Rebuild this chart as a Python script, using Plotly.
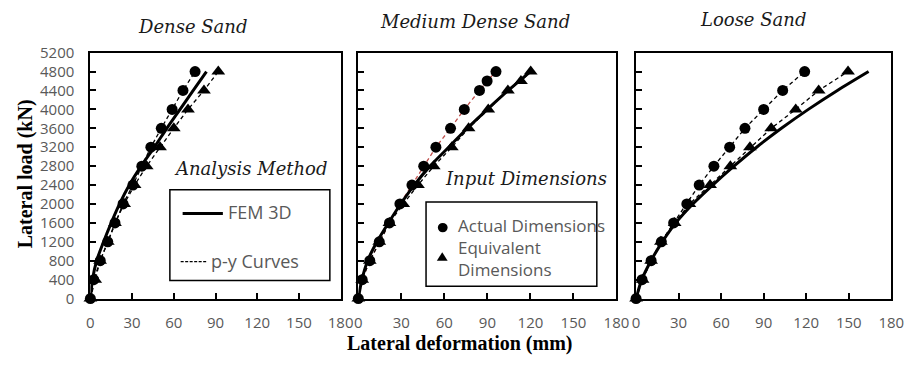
import plotly.graph_objects as go

# ---------------- data ----------------
loads = [0, 400, 800, 1200, 1600, 2000, 2400, 2800, 3200, 3600, 4000, 4400, 4800]
loads_md = [0, 400, 800, 1200, 1600, 2000, 2400, 2800, 3200, 3600, 4000, 4400, 4600, 4800]

# Dense sand
dense_fem = [0, 1.5, 4.5, 9.5, 15, 21, 28, 36.5, 46, 55, 64.5, 74, 83.5]
dense_actual = [0, 2.4, 7.1, 12.5, 17.7, 23.5, 30.6, 37.0, 43.5, 51.0, 58.8, 66.6, 75.3]
dense_equiv = [0, 3.5, 7.0, 12.5, 17.7, 24.3, 31.8, 40.5, 50.1, 60.0, 70.2, 81.7, 92.0]

# Medium dense sand
med_fem = [0, 2.5, 6.5, 13, 21, 29.5, 39, 50, 63, 76, 90, 104.5, 120]
med_actual = [0, 2.7, 8.0, 14.6, 21.7, 29.0, 37.4, 45.6, 54.1, 64.3, 73.9, 84.5, 89.8, 96.0]
med_equiv = [0, 2.7, 8.0, 14.6, 21.7, 31.3, 41.6, 52.6, 65.2, 76.9, 90.6, 104.3, 113.4, 120.2]

# Loose sand
loose_fem = [0, 4, 10.5, 18.5, 28, 40, 54, 69, 85, 102.5, 121.5, 142, 164]
loose_actual = [0, 4.2, 10.6, 17.8, 26.5, 35.8, 44.5, 54.9, 66.0, 76.8, 90.0, 103.4, 118.9]
loose_equiv = [0, 4.6, 10.6, 17.5, 27.2, 37.6, 52.2, 66.5, 80.3, 95.3, 112.6, 128.8, 149.5]

x_ticks = [0, 30, 60, 90, 120, 150, 180]
y_ticks = list(range(0, 5201, 400))

panel_titles = ["Dense Sand", "Medium Dense Sand", "Loose Sand"]

# ---------------- figure ----------------
W, H = 919, 370
fig = go.Figure()

def px(x):
    return x / W

def py(y):
    return 1 - y / H

DASH = "4px,3px"

def add_series(axn, fem, act, equiv, act_loads, eq_loads, act_color="black"):
    xa = "x" if axn == 1 else f"x{axn}"
    ya = "y" if axn == 1 else f"y{axn}"
    fig.add_trace(go.Scatter(x=act, y=act_loads, xaxis=xa, yaxis=ya, mode="lines+markers",
                             line=dict(color=act_color, width=1.3, dash=DASH),
                             marker=dict(symbol="circle", size=11, color="black"),
                             cliponaxis=False, showlegend=False))
    fig.add_trace(go.Scatter(x=equiv, y=eq_loads, xaxis=xa, yaxis=ya, mode="lines+markers",
                             line=dict(color="black", width=1.3, dash=DASH),
                             marker=dict(symbol="triangle-up", size=12, color="black"),
                             cliponaxis=False, showlegend=False))
    fig.add_trace(go.Scatter(x=fem, y=loads, xaxis=xa, yaxis=ya, mode="lines",
                             line=dict(color="black", width=3, shape="spline", smoothing=0.8),
                             cliponaxis=False, showlegend=False))

add_series(1, dense_fem, dense_actual, dense_equiv, loads, loads)
add_series(2, med_fem, med_actual, med_equiv, loads_md, loads_md, act_color="#c0504d")
add_series(3, loose_fem, loose_actual, loose_equiv, loads, loads)

domains_x = [(88, 343), (361, 624), (644, 904)]
y_dom = [py(304), py(44)]
tick_font = dict(family="Open Sans", size=15, color="#595959")

layout = dict(width=W, height=H, margin=dict(l=0, r=0, t=0, b=0),
              paper_bgcolor="white", plot_bgcolor="white", showlegend=False)

for i, (a, b) in enumerate(domains_x, start=1):
    sfx = "" if i == 1 else str(i)
    layout[f"xaxis{sfx}"] = dict(domain=[px(a), px(b)], range=[0, 180], tickvals=x_ticks,
                                 ticks="inside", ticklen=6, tickwidth=1.5, tickcolor="black",
                                 showline=True, linecolor="black", linewidth=2, mirror=True,
                                 showgrid=False, zeroline=False, tickfont=tick_font,
                                 anchor="y" if i == 1 else f"y{i}", ticklabelstandoff=9)
    layout[f"yaxis{sfx}"] = dict(domain=y_dom, range=[0, 5200], tickvals=y_ticks,
                                 ticks="inside", ticklen=6, tickwidth=1.5, tickcolor="black",
                                 showline=True, linecolor="black", linewidth=2, mirror=True,
                                 showgrid=False, zeroline=False, tickfont=tick_font,
                                 showticklabels=(i == 1),
                                 anchor="x" if i == 1 else f"x{i}", ticklabelstandoff=11)
fig.update_layout(**layout)

title_font = dict(family="DejaVu Serif", size=18, color="#1a1a1a", style="italic")
title_pos = [(192, 16), (480, 11), (763, 9)]
annotations = []
for t, (x, y) in zip(panel_titles, title_pos):
    annotations.append(dict(text=t, x=px(x), y=py(y), xref="paper", yref="paper",
                            showarrow=False, font=title_font, xanchor="center", yanchor="middle"))

# axis titles
annotations.append(dict(text="<b>Lateral load (kN)</b>", x=px(22), y=py(172), xref="paper", yref="paper",
                        showarrow=False, textangle=-90,
                        font=dict(family="Liberation Serif", size=20, color="black"),
                        xanchor="center", yanchor="middle"))
annotations.append(dict(text="<b>Lateral deformation (mm)</b>", x=px(464.5), y=py(352), xref="paper",
                        yref="paper", showarrow=False,
                        font=dict(family="Liberation Serif", size=20, color="black"),
                        xanchor="center", yanchor="middle"))

# legend headings
annotations.append(dict(text="Analysis Method", x=px(251), y=py(167), xref="paper", yref="paper",
                        showarrow=False, font=title_font, xanchor="center", yanchor="middle"))
annotations.append(dict(text="Input Dimensions", x=px(532), y=py(177), xref="paper", yref="paper",
                        showarrow=False, font=title_font, xanchor="center", yanchor="middle"))

leg_font = dict(family="Open Sans", size=17, color="#595959")
annotations += [
    dict(text="FEM 3D", x=px(226), y=py(213), xanchor="left", font=dict(family="Open Sans", size=18, color="#595959")),
    dict(text="p-y Curves", x=px(209), y=py(264), xanchor="left", font=dict(family="Open Sans", size=18, color="#595959")),
    dict(text="Actual Dimensions", x=px(461), y=py(227), xanchor="left", font=leg_font),
    dict(text="Equivalent<br>Dimensions", x=px(461), y=py(262), xanchor="left", align="left", font=leg_font),
]
for ann in annotations[-4:]:
    ann.update(xref="paper", yref="paper", showarrow=False, yanchor="middle")
fig.update_layout(annotations=annotations)

shapes = [
    # legend boxes
    dict(type="rect", x0=px(169), x1=px(332), y0=py(189), y1=py(285),
         line=dict(color="black", width=1.5)),
    dict(type="rect", x0=px(430), x1=px(604), y0=py(202), y1=py(291),
         line=dict(color="black", width=1.5)),
    # legend samples
    dict(type="line", x0=px(182), x1=px(223), y0=py(214), y1=py(214),
         line=dict(color="black", width=3)),
    dict(type="line", x0=px(180), x1=px(207), y0=py(265), y1=py(265),
         line=dict(color="black", width=1.2, dash="3px,1.5px")),
    dict(type="circle", x0=px(442), x1=px(452), y0=py(234), y1=py(224),
         fillcolor="black", line=dict(color="black", width=0)),
    dict(type="path", path=f"M {px(441)} {py(264)} L {px(452)} {py(264)} L {px(446.5)} {py(255)} Z",
         fillcolor="black", line=dict(color="black", width=0)),
]
for s in shapes:
    s.update(xref="paper", yref="paper")
fig.update_layout(shapes=shapes)

fig.write_html("out.html")
